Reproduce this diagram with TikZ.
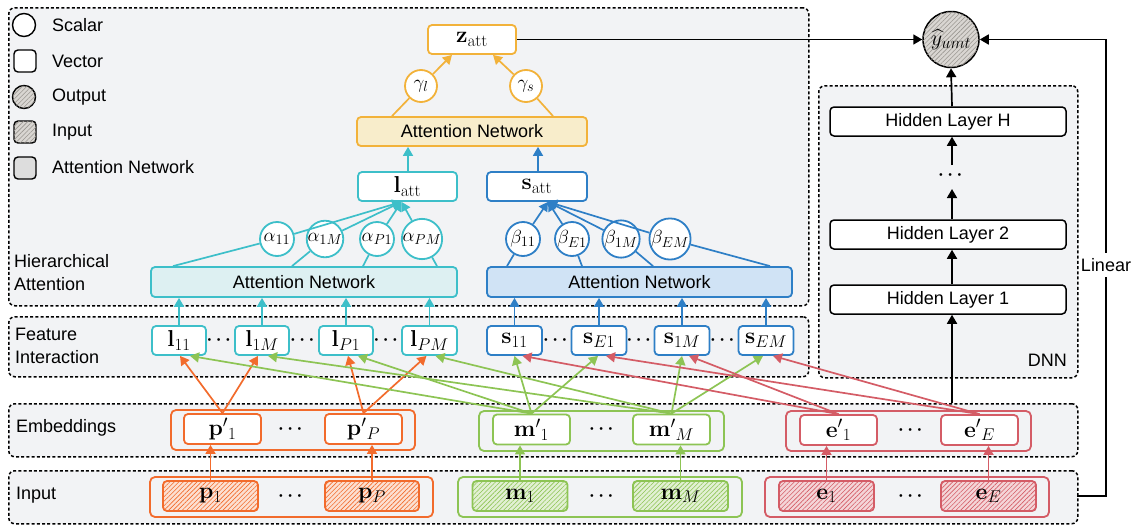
\RequirePackage{fix-cm}
\documentclass[tikz,border=0pt]{standalone}
\usepackage[no-math]{fontspec}
\setmainfont{Liberation Sans}
\usepackage{amsmath,bm}
\DeclareMathSizes{19}{19}{14.5}{11}
\DeclareMathSizes{23}{23}{17}{13}
\DeclareMathSizes{22}{22}{16.5}{12}
\usetikzlibrary{arrows.meta,patterns.meta,calc}
\definecolor{panelbg}{HTML}{F2F3F5}
\definecolor{cO}{HTML}{F26B2C}
\definecolor{cOf}{HTML}{FCE0D2}
\definecolor{cG}{HTML}{8DC454}
\definecolor{cGf}{HTML}{E2F0D3}
\definecolor{cR}{HTML}{D45C66}
\definecolor{cRf}{HTML}{F4D5D8}
\definecolor{cC}{HTML}{3DBFC9}
\definecolor{cCf}{HTML}{DDF0F2}
\definecolor{cB}{HTML}{2E7FC6}
\definecolor{cBf}{HTML}{D0E3F5}
\definecolor{cY}{HTML}{F2B23A}
\definecolor{cYf}{HTML}{F8EDCB}
\definecolor{gHf}{HTML}{D9D6D2}
\definecolor{gHl}{HTML}{9A9691}
\definecolor{gA}{HTML}{DDDDDD}
\newcommand{\dd}{$\bm{\cdots}$}
\tikzset{
  panel/.style={draw=black, line width=1.5pt, dash pattern=on 3pt off 2.2pt, fill=panelbg, rounded corners=6pt, inner sep=0, anchor=north west},
  vbox/.style={draw, line width=1.8pt, fill=white, rounded corners=4pt, inner sep=0, minimum height=29pt},
  mth/.style={font=\fontsize{23}{25}\selectfont},
  scal/.style={circle, draw, line width=1.8pt, fill=white, inner sep=0, minimum size=34pt, font=\fontsize{19}{21}\selectfont},
  grp/.style={draw, line width=1.8pt, rounded corners=5pt, inner sep=0, minimum height=40pt},
  hatch/.style={postaction={pattern={Lines[angle=45,distance=3.2pt,line width=0.6pt]}, pattern color=#1}},
  arr/.style={line width=1.7pt, -{Triangle[length=9pt,width=10pt]}},
  ln/.style={line width=1.7pt},
  lab/.style={anchor=west, align=left, inner sep=0},
}
\begin{document}
\begin{tikzpicture}[x=1pt,y=-1pt, font=\fontsize{18}{23}\selectfont]
\useasboundingbox (0,0) rectangle (1138,525);
% panels
\node[panel, minimum width=800pt, minimum height=298pt] (pHA) at (8,7) {};
\node[panel, minimum width=800pt, minimum height=60pt] (pFI) at (8,316) {};
\node[panel, minimum width=1069pt, minimum height=53pt] (pEM) at (8,403) {};
\node[panel, minimum width=1069pt, minimum height=53pt] (pIN) at (8,470) {};
\node[panel, minimum width=259pt, minimum height=292pt] (pDNN) at (818,85) {};
% legend
\node[scal, minimum size=23pt, line width=1.4pt] (lgS) at (24,25) {};
\node[lab] (lgSt) at (52,25) {Scalar};
\node[vbox, minimum width=22pt, minimum height=22pt, line width=1.4pt] (lgV) at (25,61) {};
\node[lab] (lgVt) at (52,61) {Vector};
\node[scal, minimum size=23pt, line width=1.4pt, fill=gHf, hatch=gHl] (lgO) at (24,97) {};
\node[lab] (lgOt) at (52,97) {Output};
\node[vbox, minimum width=22pt, minimum height=22pt, line width=1.4pt, fill=gHf, hatch=gHl] (lgI) at (25,132) {};
\node[lab] (lgIt) at (52,132) {Input};
\node[vbox, minimum width=22pt, minimum height=22pt, line width=1.4pt, fill=gA] (lgA) at (25,168) {};
\node[lab] (lgAt) at (52,167) {Attention Network};
% section labels
\node[lab] (tHA) at (14,273) {Hierarchical\\Attention};
\node[lab] (tFI) at (15,345.5) {Feature\\Interaction};
\node[lab] (tEM) at (16,428) {Embeddings};
\node[lab] (tIN) at (16,495) {Input};
% top attention
\node[vbox, mth, draw=cY, minimum width=88pt] (zatt) at (472,39.5) {$\mathbf{z}_{\mathrm{att}}$};
\node[scal, draw=cY, minimum size=32pt] (gl) at (421,86) {$\gamma_l$};
\node[scal, draw=cY, minimum size=32pt] (gs) at (526,86) {$\gamma_s$};
\node[vbox, draw=cY, fill=cYf, minimum width=230pt] (anY) at (472,131.5) {Attention Network};
\node[vbox, mth, draw=cC, minimum width=99pt] (latt) at (407.5,186.5) {$\mathbf{l}_{\mathrm{att}}$};
\node[vbox, mth, draw=cB, minimum width=100pt] (satt) at (537,186.5) {$\mathbf{s}_{\mathrm{att}}$};
% alpha / beta
\node[scal, draw=cC] (a11) at (277,239) {$\alpha_{11}$};
\node[scal, draw=cC] (a1M) at (325,239) {$\alpha_{1M}$};
\node[scal, draw=cC] (aP1) at (377,239) {$\alpha_{P1}$};
\node[scal, draw=cC] (aPM) at (422,239) {$\alpha_{PM}$};
\node[scal, draw=cB] (b11) at (523,239) {$\beta_{11}$};
\node[scal, draw=cB] (bE1) at (572,239) {$\beta_{E1}$};
\node[scal, draw=cB] (b1M) at (621,239) {$\beta_{1M}$};
\node[scal, draw=cB] (bEM) at (670,239) {$\beta_{EM}$};
\node[vbox, draw=cC, fill=cCf, minimum width=306pt, minimum height=30pt] (anL) at (304,282) {Attention Network};
\node[vbox, draw=cB, fill=cBf, minimum width=305pt, minimum height=30pt] (anS) at (639.5,282) {Attention Network};
% feature interaction
\node[vbox, mth, draw=cC, minimum width=54pt] (l11) at (179,340.5) {$\mathbf{l}_{11}$};
\node[vbox, mth, draw=cC, minimum width=54pt] (l1M) at (262,340.5) {$\mathbf{l}_{1M}$};
\node[vbox, mth, draw=cC, minimum width=54pt] (lP1) at (346,340.5) {$\mathbf{l}_{P1}$};
\node[vbox, mth, draw=cC, minimum width=55pt] (lPM) at (429.5,340.5) {$\mathbf{l}_{PM}$};
\node[vbox, mth, draw=cB, minimum width=55pt] (s11) at (514.5,340.5) {$\mathbf{s}_{11}$};
\node[vbox, mth, draw=cB, minimum width=55pt] (sE1) at (599,340.5) {$\mathbf{s}_{E1}$};
\node[vbox, mth, draw=cB, minimum width=55pt] (s1M) at (682,340.5) {$\mathbf{s}_{1M}$};
\node[vbox, mth, draw=cB, minimum width=55pt] (sEM) at (766,340.5) {$\mathbf{s}_{EM}$};
\node (fd1) at (220.5,340) {\dd};
\node (fd2) at (304,340) {\dd};
\node (fd3) at (387.5,340) {\dd};
\node (fd4) at (557,340) {\dd};
\node (fd5) at (640.5,340) {\dd};
\node (fd6) at (724,340) {\dd};
% embeddings
\node[grp, draw=cO, minimum width=244pt] (pg) at (293,430) {};
\node[vbox, mth, draw=cO, minimum width=77pt, minimum height=30pt] (pp1) at (222.5,429) {$\mathbf{p}'{}_1$};
\node[vbox, mth, draw=cO, minimum width=77pt, minimum height=30pt] (ppP) at (363.5,429) {$\mathbf{p}'{}_P$};
\node (ed1) at (292,429) {\dd};
\node[grp, draw=cG, minimum width=245pt] (mg) at (601.5,431) {};
\node[vbox, mth, draw=cG, minimum width=77pt, minimum height=30pt] (mm1) at (531.5,429.5) {$\mathbf{m}'{}_1$};
\node[vbox, mth, draw=cG, minimum width=77pt, minimum height=30pt] (mmM) at (671.5,429.5) {$\mathbf{m}'{}_M$};
\node (ed2) at (603,429.5) {\dd};
\node[grp, draw=cR, minimum width=245pt] (eg) at (908.5,431) {};
\node[vbox, mth, draw=cR, minimum width=77pt, minimum height=30pt] (ee1) at (838.5,430) {$\mathbf{e}'{}_1$};
\node[vbox, mth, draw=cR, minimum width=77pt, minimum height=30pt] (eeE) at (979.5,430) {$\mathbf{e}'{}_E$};
\node (ed3) at (912,430) {\dd};
% input
\node[grp, draw=cO, minimum width=283pt] (pig) at (291.5,497) {};
\node[vbox, mth, draw=cO, fill=cOf, hatch=cO, minimum width=95pt, minimum height=30pt] (p1) at (210.5,496) {$\mathbf{p}_1$};
\node[vbox, mth, draw=cO, fill=cOf, hatch=cO, minimum width=94pt, minimum height=30pt] (pP) at (372,496) {$\mathbf{p}_P$};
\node (id1) at (292,496) {\dd};
\node[grp, draw=cG, minimum width=284pt] (mig) at (600,497) {};
\node[vbox, mth, draw=cG, fill=cGf, hatch=cG, minimum width=95pt, minimum height=30pt] (m1) at (520,496) {$\mathbf{m}_1$};
\node[vbox, mth, draw=cG, fill=cGf, hatch=cG, minimum width=95pt, minimum height=30pt] (mM) at (680.5,496) {$\mathbf{m}_M$};
\node (id2) at (603,496) {\dd};
\node[grp, draw=cR, minimum width=284pt] (eig) at (907,497) {};
\node[vbox, mth, draw=cR, fill=cRf, hatch=cR, minimum width=95pt, minimum height=30pt] (e1) at (826.5,496) {$\mathbf{e}_1$};
\node[vbox, mth, draw=cR, fill=cRf, hatch=cR, minimum width=95pt, minimum height=30pt] (eE) at (988.5,496) {$\mathbf{e}_E$};
\node (id3) at (912,496) {\dd};
% DNN
\node[vbox, draw=black, line width=1.5pt, minimum width=236pt] (hlH) at (948,121.5) {Hidden Layer H};
\node (hld) at (952,175) {\dd};
\node[vbox, draw=black, line width=1.5pt, minimum width=236pt] (hl2) at (948,234.5) {Hidden Layer 2};
\node[vbox, draw=black, line width=1.5pt, minimum width=236pt] (hl1) at (948,299.5) {Hidden Layer 1};
\node[anchor=east, inner sep=0] (dnnT) at (1067,360) {DNN};
\node[scal, minimum size=56pt, line width=1.5pt, fill=gHf, hatch=gHl] (out) at (951,39.5) {};
\node[text=black, inner sep=0, font=\fontsize{22}{24}\selectfont] (outT) at (out.center) {$\widehat{y}_{umt}$};
% connectors: top
\draw[ln, cY] ([xshift=-80pt]anY.north) -- (gl);
\draw[arr, cY] (gl) -- ([xshift=-20pt]zatt.south);
\draw[ln, cY] ([xshift=81pt]anY.north) -- (gs);
\draw[arr, cY] (gs) -- ([xshift=21pt]zatt.south);
\draw[arr, cC] ([xshift=0.5pt]latt.north) -- ([xshift=0.5pt]latt.north |- anY.south);
\draw[arr, cB] ([xshift=1pt]satt.north) -- ([xshift=1pt]satt.north |- anY.south);
\coordinate (lT) at ([xshift=-6pt]latt.south);
\coordinate (sT) at ([xshift=11pt]satt.south);
\draw[ln, cC] ([xshift=-131pt]anL.north) -- (a11);
\draw[ln, cC] ([xshift=-12pt]anL.north) -- (a1M);
\draw[ln, cC] ([xshift=59pt]anL.north) -- (aP1);
\draw[ln, cC] ([xshift=133pt]anL.north) -- (aPM);
\draw[arr, cC] (a11) -- (lT);
\draw[arr, cC] (a1M) -- (lT);
\draw[arr, cC] (aP1) -- (lT);
\draw[arr, cC] (aPM) -- (lT);
\draw[ln, cB] ([xshift=-132.5pt]anS.north) -- (b11);
\draw[ln, cB] ([xshift=-57.5pt]anS.north) -- (bE1);
\draw[ln, cB] ([xshift=13.5pt]anS.north) -- (b1M);
\draw[ln, cB] ([xshift=130.5pt]anS.north) -- (bEM);
\draw[arr, cB] (b11) -- (sT);
\draw[arr, cB] (bE1) -- (sT);
\draw[arr, cB] (b1M) -- (sT);
\draw[arr, cB] (bEM) -- (sT);
\foreach \n in {l11,l1M,lP1,lPM} \draw[arr, cC] (\n.north) -- (\n.north |- anL.south);
\foreach \n in {s11,sE1,s1M,sEM} \draw[arr, cB] (\n.north) -- (\n.north |- anS.south);
% embeddings -> interactions
\draw[arr, cO] (pp1.north) -- ([xshift=1pt]l11.south);
\draw[arr, cO] (pp1.north) -- ([xshift=-4pt]l1M.south);
\draw[arr, cO] (ppP.north) -- ([xshift=2pt]lP1.south);
\draw[arr, cO] (ppP.north) -- ([xshift=-3pt]lPM.south);
\draw[arr, cG] (mm1.north) -- ([xshift=11pt]l11.south);
\draw[arr, cG] (mmM.north) -- ([xshift=6pt]l1M.south);
\draw[arr, cG] (mm1.north) -- ([xshift=12pt]lP1.south);
\draw[arr, cG] (mmM.north) -- ([xshift=6pt]lPM.south);
\draw[arr, cG] (mm1.north) -- ([xshift=0pt]s11.south);
\draw[arr, cG] (mm1.north) -- ([xshift=-1pt]sE1.south);
\draw[arr, cG] (mmM.north) -- ([xshift=0pt]s1M.south);
\draw[arr, cG] (mmM.north) -- ([xshift=-3pt]sEM.south);
\draw[arr, cR] (ee1.north) -- ([xshift=8pt]s11.south);
\draw[arr, cR] (eeE.north) -- ([xshift=7pt]sE1.south);
\draw[arr, cR] (ee1.north) -- ([xshift=7pt]s1M.south);
\draw[arr, cR] (eeE.north) -- ([xshift=7pt]sEM.south);
% input -> embeddings
\draw[arr, cO] (p1.north) -- (p1.north |- pp1.south);
\draw[arr, cO] (pP.north) -- (pP.north |- ppP.south);
\draw[arr, cG] (m1.north) -- (m1.north |- mm1.south);
\draw[arr, cG] (mM.north) -- (mM.north |- mmM.south);
\draw[arr, cR] (e1.north) -- (e1.north |- ee1.south);
\draw[arr, cR] (eE.north) -- (eE.north |- eeE.south);
% DNN connectors
\coordinate (dS) at (952,403);
\draw[arr, black] (dS) -- (dS |- hl1.south);
\draw[arr, black] (dS |- hl1.north) -- (dS |- hl2.south);
\draw[arr, black] (dS |- hl2.north) -- (952,189);
\draw[arr, black] (952,165) -- (dS |- hlH.south);
\draw[arr, black] (dS |- hlH.north) -- (out.south);
\draw[arr, black] (zatt.east) -- (out.west);
\coordinate (linS) at (1077,496);
\coordinate (linC) at (1106,496);
\coordinate (linT) at (1106,39.5);
\draw[arr, black] (linS) -- (linC) -- (linT) -- (out.east);
\node[fill=white, inner xsep=0pt, inner ysep=5pt] (linL) at (1106,265) {Linear};
\end{tikzpicture}
\end{document}
